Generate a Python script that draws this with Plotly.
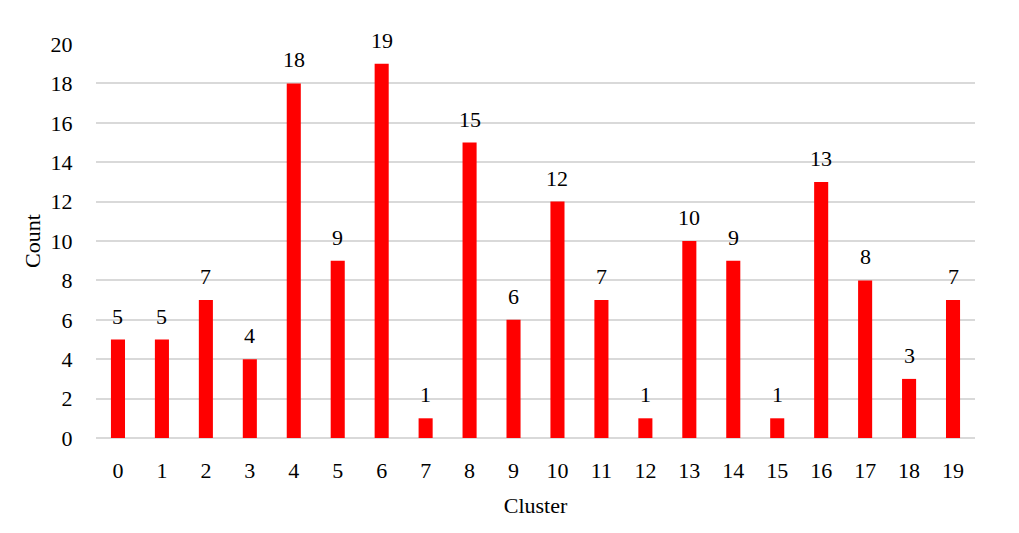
import plotly.graph_objects as go

clusters = [str(i) for i in range(20)]
counts = [5, 5, 7, 4, 18, 9, 19, 1, 15, 6, 12, 7, 1, 10, 9, 1, 13, 8, 3, 7]
y_ticks = list(range(0, 21, 2))

FONT = "Liberation Serif"
FS = 22

fig = go.Figure(go.Bar(
    x=clusters, y=counts,
    marker=dict(color="#ff0000", line=dict(width=0)),
    hoverinfo="x+y",
))

for c, v in zip(clusters, counts):
    fig.add_annotation(
        x=c, y=v, text=str(v), showarrow=False,
        xanchor="center", yanchor="bottom", yshift=9,
        font=dict(family=FONT, size=FS, color="#000000"),
    )

fig.update_layout(
    width=1019, height=533,
    margin=dict(l=88, r=52, t=36, b=103),
    paper_bgcolor="white", plot_bgcolor="white",
    bargap=0.68,
    font=dict(family=FONT, size=FS, color="#000000"),
    showlegend=False,
)
fig.update_xaxes(
    type="category",
    showgrid=False, showline=False, zeroline=False,
    ticks="outside", ticklen=13, tickcolor="rgba(0,0,0,0)",
    tickfont=dict(family=FONT, size=FS),
    title=dict(text="Cluster", font=dict(family=FONT, size=FS), standoff=15),
)
fig.update_yaxes(
    range=[0, 20], tickvals=y_ticks,
    showgrid=True, gridcolor="#d9d9d9", gridwidth=1.5,
    zeroline=True, zerolinecolor="#d9d9d9", zerolinewidth=1.5,
    showline=False,
    ticks="outside", ticklen=18, tickcolor="rgba(0,0,0,0)",
    tickfont=dict(family=FONT, size=FS),
    title=dict(text="Count", font=dict(family=FONT, size=FS), standoff=3),
)

fig.write_html("out.html")
